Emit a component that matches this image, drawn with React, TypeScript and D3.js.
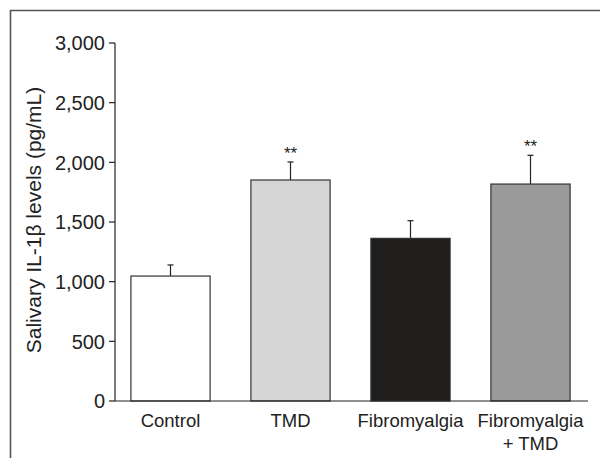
import React from "react";
import { scaleBand, scaleLinear, format } from "d3";

const groups = ["Control", "TMD", "Fibromyalgia", "Fibromyalgia\n+ TMD"];
const means = [1047, 1852, 1363, 1818];
const errors = [93, 151, 148, 241];
const stars = ["", "**", "", "**"];
const fills = ["#ffffff", "#d6d6d6", "#1f1e1c", "#9a9a9a"];
const yTicks = [0, 500, 1000, 1500, 2000, 2500, 3000];

const App = () => {
	const width = 600;
	const height = 458;
	const axisX = 115;
	const axisEnd = 588;
	const font = "'Liberation Sans', Arial, Helvetica, sans-serif";

	const y = scaleLinear().domain([0, 3000]).range([401, 43]);
	const x = scaleBand()
		.domain(groups)
		.range([110.5, 590.5])
		.paddingInner(0.34)
		.paddingOuter(0.17);
	const fmt = format(",");

	return (
		<svg
			width={width}
			height={height}
			style={{ position: "absolute", left: 0, top: 0 }}
			fontFamily={font}
		>
			<rect x={0} y={0} width={width} height={height} fill="#fff" />
			{/* frame */}
			<path d={`M10.5,${height} V10.5 H${width}`} fill="none" stroke="#555" strokeWidth={1.6} />

			{/* bars */}
			{groups.map((g, i) => {
				const bx = x(g)!;
				const cx = bx + x.bandwidth() / 2;
				const top = y(means[i]);
				const errTop = y(means[i] + errors[i]);
				return (
					<g key={g}>
						<line x1={cx} x2={cx} y1={top} y2={errTop} stroke="#222" strokeWidth={1.2} />
						<line x1={cx - 3} x2={cx + 3} y1={errTop} y2={errTop} stroke="#222" strokeWidth={1.2} />
						<rect
							x={bx}
							y={top}
							width={x.bandwidth()}
							height={y(0) - top}
							fill={fills[i]}
							stroke="#333"
							strokeWidth={1.2}
						/>
						{stars[i] && (
							<text x={cx} y={errTop - 3} textAnchor="middle" fontSize={17} fill="#222">
								{stars[i]}
							</text>
						)}
					</g>
				);
			})}

			{/* y axis */}
			<line x1={axisX} x2={axisX} y1={y(3000)} y2={y(0)} stroke="#222" strokeWidth={1.2} />
			{yTicks.map((t) => (
				<g key={t} transform={`translate(0,${y(t)})`}>
					<line x1={axisX - 6} x2={axisX} stroke="#222" strokeWidth={1.2} />
					<text x={axisX - 10} dy="0.36em" textAnchor="end" fontSize={20} fill="#222">
						{fmt(t)}
					</text>
				</g>
			))}
			<text
				transform={`translate(41,220) rotate(-90)`}
				textAnchor="middle"
				fontSize={21}
				fill="#222"
			>
				Salivary IL-1β levels (pg/mL)
			</text>

			{/* x axis */}
			<line x1={axisX} x2={axisEnd} y1={y(0)} y2={y(0)} stroke="#222" strokeWidth={1.2} />
			{groups.map((g) => (
				<text
					key={g}
					x={x(g)! + x.bandwidth() / 2}
					y={427}
					textAnchor="middle"
					fontSize={18.5}
					fill="#222"
				>
					{g.split("\n").map((line, j) => (
						<tspan key={j} x={x(g)! + x.bandwidth() / 2} dy={j === 0 ? 0 : 23}>
							{line}
						</tspan>
					))}
				</text>
			))}
		</svg>
	);
};

export default App;
